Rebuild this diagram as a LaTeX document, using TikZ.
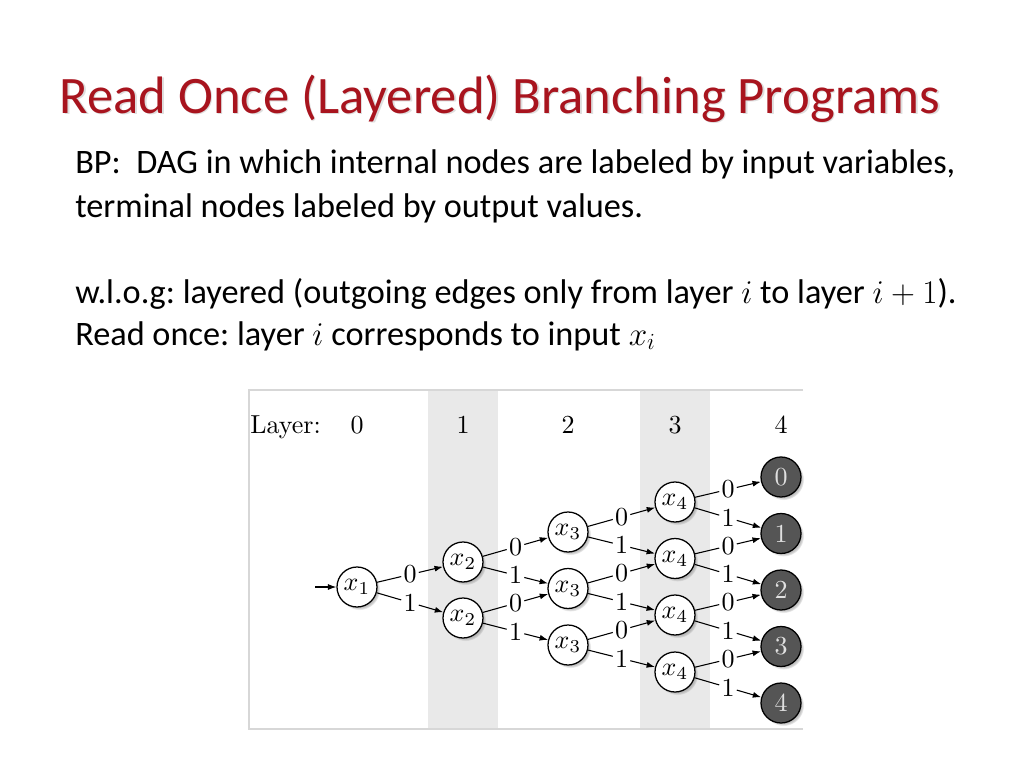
\documentclass[tikz,border=0pt]{standalone}
\usepackage{fontspec}
\newfontfamily\calibri{Carlito}
\usetikzlibrary{arrows.meta,shadows,calc}
\definecolor{titlered}{RGB}{168,20,30}
\definecolor{bandgray}{RGB}{233,233,233}
\definecolor{boxgray}{RGB}{215,215,215}
\definecolor{termgray}{RGB}{85,85,85}
\newcommand{\dgtxt}[1]{\scalebox{1.95}{#1}}
\begin{document}
\begin{tikzpicture}[x=0.75pt,y=-0.75pt,
  bp/.style={circle,draw,line width=0.95pt,minimum size=30pt,inner sep=0pt,fill=white,
    font=\normalsize,
    circular drop shadow={shadow xshift=1.8pt,shadow yshift=-1.8pt,shadow scale=1.03,opacity=0.5}},
  term/.style={bp,fill=termgray,text=black!12},
  lab/.style={inner sep=1.5pt,font=\normalsize},
  lay/.style={inner sep=0pt,font=\normalsize},
  conn/.style={line width=0.8pt},
  arr/.style={conn,-{Latex[length=6.3pt,width=4.5pt]}},
  body/.style={anchor=base west,inner sep=0pt,font=\calibri\fontsize{25.7}{30}\selectfont\frenchspacing},
  ttl/.style={anchor=base,inner sep=0pt,font=\calibri\fontsize{39.5}{46}\selectfont,text=titlered}]
\useasboundingbox[fill=white] (0,0) rectangle (1024,768);

% title and text
\node[ttl,text=black!25,opacity=0.5] at (501.5,114.5) {Read Once (Layered) Branching Programs};
\node[ttl] (title) at (500,113) {Read Once (Layered) Branching Programs};
\node[body] (l1) at (75,173) {BP:\ \ DAG in which internal nodes are labeled by input variables,};
\node[body] (l2) at (75,217) {terminal nodes labeled by output values.};
\node[body] (l3) at (75,303) {w.l.o.g: layered (outgoing edges only from layer $i$ to layer $i+1$).};
\node[body] (l4) at (75,345) {Read once: layer $i$ corresponds to input $x_i$};

% frame and bands
\fill[bandgray] (428,390) rectangle (498,729);
\fill[bandgray] (640,390) rectangle (710,729);
\draw[boxgray,line width=0.9pt] (803,390) -- (249,390) -- (249,729) -- (803,729);

% layer header
\node[lay,anchor=base west] (lay) at (250,433) {\dgtxt{Layer:}};
\foreach \k/\x in {0/357,1/463,2/568,3/675,4/781}
  \node[lay,anchor=base] (h\k) at (\x,433) {\dgtxt{\k}};

% nodes
\node[bp] (a) at (357,587) {\dgtxt{$x_1$}};
\node[bp] (b1) at (463,562) {\dgtxt{$x_2$}};
\node[bp] (b2) at (463,618) {\dgtxt{$x_2$}};
\node[bp] (c1) at (568,532) {\dgtxt{$x_3$}};
\node[bp] (c2) at (568,588.5) {\dgtxt{$x_3$}};
\node[bp] (c3) at (568,645) {\dgtxt{$x_3$}};
\node[bp] (d1) at (675,502) {\dgtxt{$x_4$}};
\node[bp] (d2) at (675,558.5) {\dgtxt{$x_4$}};
\node[bp] (d3) at (675,615) {\dgtxt{$x_4$}};
\node[bp] (d4) at (675,672) {\dgtxt{$x_4$}};
\node[term] (t0) at (781,477) {\dgtxt{0}};
\node[term] (t1) at (781,533.5) {\dgtxt{1}};
\node[term] (t2) at (781,590) {\dgtxt{2}};
\node[term] (t3) at (781,646.5) {\dgtxt{3}};
\node[term] (t4) at (781,703) {\dgtxt{4}};

% input arrow
\coordinate (in) at (315,587);
\draw[arr] (in) -- (a);

% edges with labels
\foreach \s/\t/\v [count=\n] in {a/b1/0,a/b2/1,
    b1/c1/0,b1/c2/1,b2/c2/0,b2/c3/1,
    c1/d1/0,c1/d2/1,c2/d2/0,c2/d3/1,c3/d3/0,c3/d4/1,
    d1/t0/0,d1/t1/1,d2/t1/0,d2/t2/1,d3/t2/0,d3/t3/1,d4/t3/0,d4/t4/1}{
  \node[lab] (e\n) at ($(\s)!0.5!(\t)$) {\dgtxt{\v}};
  \draw[conn] (\s) -- (e\n);
  \draw[arr] (e\n) -- (\t);
}
\end{tikzpicture}
\end{document}
